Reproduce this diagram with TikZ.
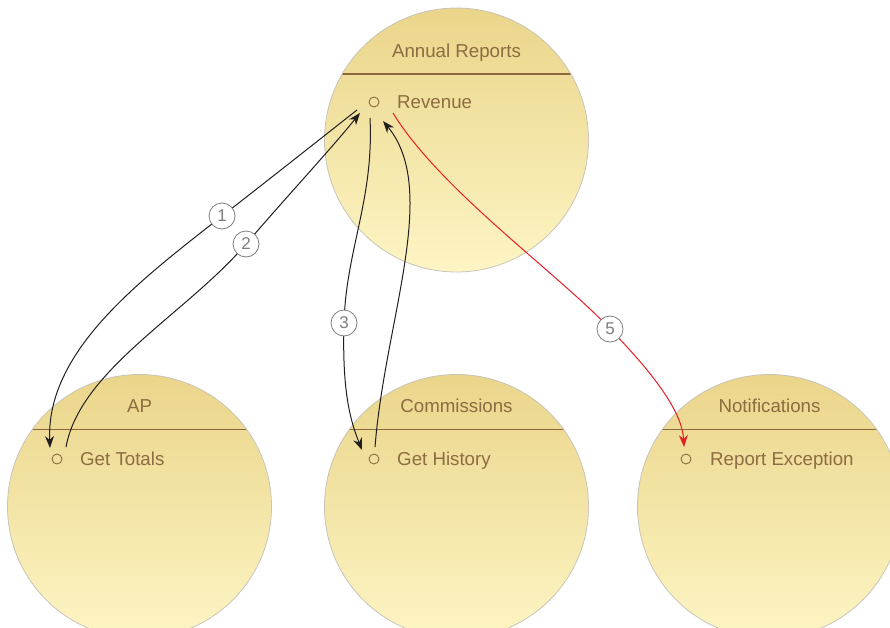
\documentclass[tikz,border=0pt]{standalone}
\usepackage{fontspec}
\setmainfont{Liberation Sans}
\usetikzlibrary{arrows.meta}
\definecolor{txt}{RGB}{140,108,64}
\definecolor{divc}{RGB}{140,104,60}
\definecolor{ctop}{RGB}{234,213,138}
\definecolor{cbot}{RGB}{253,245,196}
\definecolor{cbord}{RGB}{200,196,185}
\definecolor{redc}{RGB}{232,30,36}
\definecolor{lblgray}{RGB}{125,125,125}
\tikzset{
  pkg/.style={circle, minimum size=264pt, inner sep=0pt, draw=cbord, line width=0.8pt, top color=ctop, bottom color=cbot},
  ttl/.style={text=txt, anchor=base, inner sep=0pt, font=\fontsize{18.7}{20}\selectfont},
  member/.style={text=txt, anchor=base west, inner sep=0pt, font=\fontsize{18.7}{20}\selectfont},
  port/.style={circle, draw=txt, line width=0.9pt, minimum size=10pt, inner sep=0pt},
  num/.style={circle, draw=lblgray, line width=0.8pt, fill=white, minimum size=26pt, inner sep=0pt, text=lblgray, font=\fontsize{17}{17}\selectfont},
  flow/.style={draw=black!88, line width=1pt, -{Stealth[length=12pt,width=9pt]}},
  flowred/.style={flow, draw=redc},
  divline/.style={draw=divc, line width=1.6pt}
}
\begin{document}
\begin{tikzpicture}[x=1pt,y=-1pt]
\useasboundingbox (0,0) rectangle (890,627);
% packages
\node[pkg] (ar) at (456.5,140) {};
\node[pkg] (ap) at (139.5,506.5) {};
\node[pkg] (cm) at (456.5,506.5) {};
\node[pkg] (nt) at (769.5,506.5) {};
% dividers
\begin{scope}\clip (456.5,140) circle (131.5pt); \draw[divline] (300,74) -- (620,74);\end{scope}
\begin{scope}\clip (139.5,506.5) circle (131.5pt); \draw[divline] (0,429.5) -- (300,429.5);\end{scope}
\begin{scope}\clip (456.5,506.5) circle (131.5pt); \draw[divline] (300,429.5) -- (620,429.5);\end{scope}
\begin{scope}\clip (769.5,506.5) circle (131.5pt); \draw[divline] (620,429.5) -- (900,429.5);\end{scope}
% titles
\node[ttl] (tar) at (456.5,57) {Annual Reports};
\node[ttl] (tap) at (139.5,412.5) {AP};
\node[ttl] (tcm) at (456.5,412.5) {Commissions};
\node[ttl] (tnt) at (769.5,412.5) {Notifications};
% members
\node[port] (prev) at (374,102) {};
\node[member] (mrev) at (397,108.5) {Revenue};
\node[port] (pgt) at (57,459) {};
\node[member] (mgt) at (80,465.5) {Get Totals};
\node[port] (pgh) at (374,459) {};
\node[member] (mgh) at (397,465.5) {Get History};
\node[port] (pre) at (686,459) {};
\node[member] (mre) at (710,465.5) {Report Exception};
% connector end points
\coordinate (r1) at (357,110);
\coordinate (r2) at (360,113);
\coordinate (r3) at (370,118);
\coordinate (r4) at (383,121);
\coordinate (r5) at (393,113);
\coordinate (a1) at (50,448);
\coordinate (a2) at (66,447);
\coordinate (h3) at (362,450);
\coordinate (h4) at (375,447);
\coordinate (e5) at (684,447);
\coordinate (c1) at (222,216);
\coordinate (c2) at (246,244);
\coordinate (c3) at (344,323);
\coordinate (c5) at (610,329);
% connectors
\draw[flow] (r1) .. controls (310,147) and (262,185) .. (c1) .. controls (142,279) and (46,350) .. (a1);
\draw[flow] (a2) .. controls (80,370) and (186,314) .. (c2) .. controls (290,193) and (330,150) .. (r2);
\draw[flow] (r3) .. controls (374,200) and (346,250) .. (c3) .. controls (342,390) and (350,420) .. (h3);
\draw[flow] (h4) .. controls (385,320) and (440,190) .. (r4);
\draw[flowred] (r5) .. controls (440,190) and (560,275) .. (c5) .. controls (650,370) and (682,410) .. (e5);
% numbers
\node[num] (n1) at (c1) {1};
\node[num] (n2) at (c2) {2};
\node[num] (n3) at (c3) {3};
\node[num] (n5) at (c5) {5};
\end{tikzpicture}
\end{document}
